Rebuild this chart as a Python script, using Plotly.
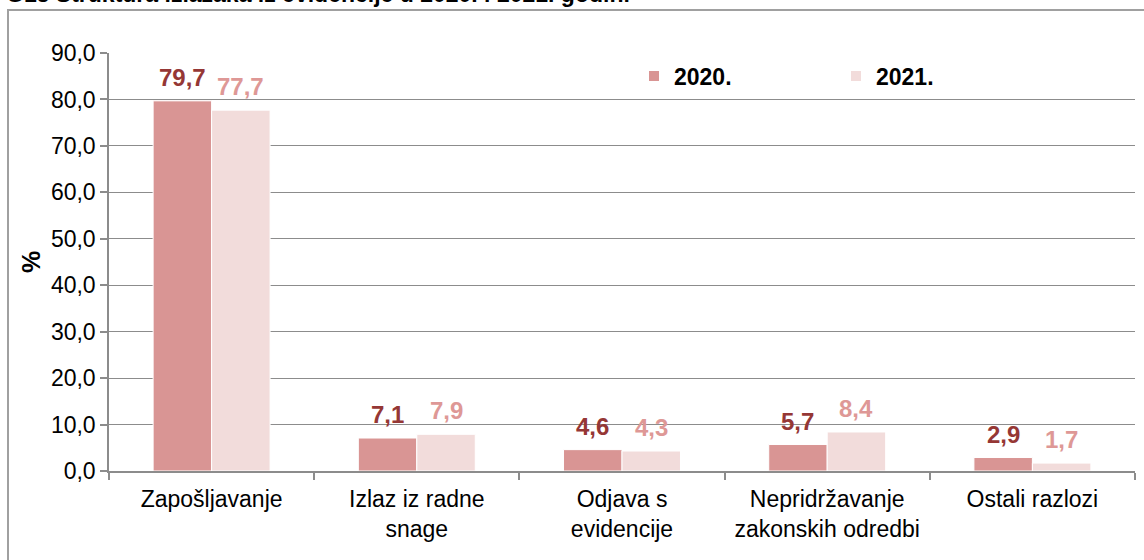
import plotly.graph_objects as go

# ---- data ----
categories = ["Zapošljavanje", "Izlaz iz radne<br>snage", "Odjava s<br>evidencije",
              "Nepridržavanje<br>zakonskih odredbi", "Ostali razlozi"]
values_2020 = [79.7, 7.1, 4.6, 5.7, 2.9]
values_2021 = [77.7, 7.9, 4.3, 8.4, 1.7]
series_names = ["2020.", "2021."]
title_text = "G15 Struktura izlazaka iz evidencije u 2020. i 2021. godini"
y_ticks = [0, 10, 20, 30, 40, 50, 60, 70, 80, 90]

# ---- style ----
W, H = 1144, 560
ML, MR, MT, MB = 109, 9, 53, 89
FONT = "Liberation Sans, Arial, sans-serif"
C2020, C2021 = "#D99594", "#F2DCDB"
L2020, L2021 = "#953735", "#DE9896"
GRID = "#8C8C8C"
BARGAP = 0.43

plot_w = W - ML - MR
plot_h = H - MT - MB
cat_px = plot_w / len(categories)
bar_px = cat_px * (1 - BARGAP) / 2

fig = go.Figure()
fig.add_trace(go.Bar(name=series_names[0], x=categories, y=values_2020,
                     marker=dict(color=C2020, line=dict(color="white", width=1))))
fig.add_trace(go.Bar(name=series_names[1], x=categories, y=values_2021,
                     marker=dict(color=C2021, line=dict(color="white", width=1))))

# value labels
for vals, col, sign in [(values_2020, L2020, -1), (values_2021, L2021, 1)]:
    for c, v in zip(categories, vals):
        fig.add_annotation(x=c, y=v, text=f"{v:.1f}".replace(".", ","),
                           showarrow=False, xshift=sign * bar_px / 2, yshift=8,
                           yanchor="bottom",
                           font=dict(family=FONT, size=24, color=col, weight="bold"))

# clipped title at top
fig.add_annotation(xref="paper", yref="paper", x=(4 - ML) / plot_w,
                   y=(H - MB - 9) / plot_h, xanchor="left", yanchor="bottom",
                   text="<b>" + title_text + "</b>", showarrow=False,
                   font=dict(family=FONT, size=23, color="black"))

# outer frame
fig.add_shape(type="rect", xref="paper", yref="paper",
              x0=(8 - ML) / plot_w, x1=1.2, y0=-0.5, y1=(H - MB - 10) / plot_h,
              line=dict(color="#A0A0A0", width=2), layer="below")

fig.update_layout(
    width=W, height=H,
    margin=dict(l=ML, r=MR, t=MT, b=MB),
    paper_bgcolor="white", plot_bgcolor="white",
    barmode="group", bargap=BARGAP, bargroupgap=0,
    separators=", ",
    font=dict(family=FONT, size=23, color="black"),
    showlegend=True,
    legend=dict(orientation="h", x=(634 - ML) / plot_w, y=(H - MB - 76) / plot_h,
                xanchor="left", yanchor="middle", bgcolor="rgba(0,0,0,0)",
                font=dict(family=FONT, size=23, color="black", weight="bold"),
                entrywidth=157, entrywidthmode="pixels", itemsizing="constant",
                traceorder="normal"),
    xaxis=dict(showline=True, linecolor=GRID, linewidth=1.5, ticks="outside",
               tickson="boundaries", ticklen=7, tickcolor=GRID, tickwidth=1.5,
               showgrid=False, tickfont=dict(size=23), ticklabelstandoff=7),
    yaxis=dict(range=[0, 90], tickvals=y_ticks, tickformat=".1f",
               showline=True, linecolor=GRID, linewidth=1.5, ticks="outside",
               ticklen=7, tickcolor=GRID, tickwidth=1.5,
               showgrid=True, gridcolor=GRID, gridwidth=1.2,
               tickfont=dict(size=23), zeroline=False,
               title=dict(text="<b>%</b>", standoff=3, font=dict(size=25))),
)

fig.write_html("out.html", config={"displayModeBar": False},
               post_script="document.body.style.margin='0';")
